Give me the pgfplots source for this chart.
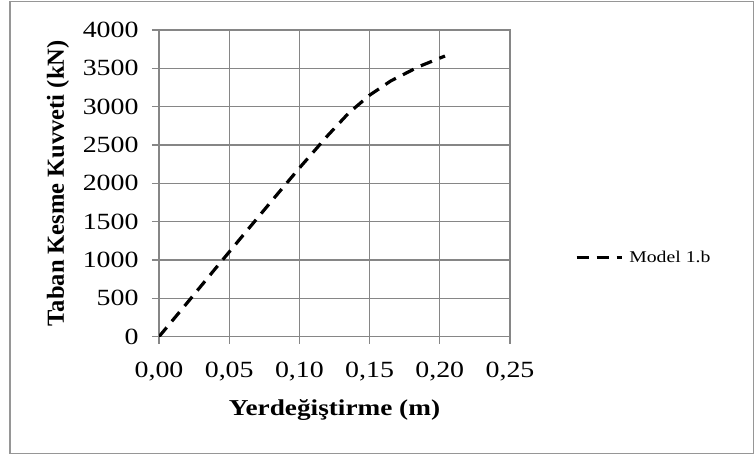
\documentclass[border=0pt]{standalone}
\usepackage{fontspec}
\setmainfont[FakeStretch=1.2]{Liberation Serif}
\newfontfamily\ylabfont{Liberation Serif}
\usepackage{pgfplots}
\pgfplotsset{compat=1.18}
\definecolor{gridgray}{RGB}{134,134,134}
\definecolor{framegray}{RGB}{150,150,150}

\begin{document}
\begin{tikzpicture}
\useasboundingbox (0bp,0bp) rectangle (755bp,455bp);
\draw[framegray, line width=1.3bp] (10bp,1.5bp) rectangle (753.5bp,453.5bp);
\begin{axis}[
    at={(159bp,118.3bp)}, anchor=south west,
    scale only axis,
    width=351bp, height=306.7bp,
    xmin=0, xmax=0.25,
    ymin=0, ymax=4000,
    xtick={0,0.05,0.10,0.15,0.20,0.25},
    ytick={0,500,1000,1500,2000,2500,3000,3500,4000},
    xtick pos=lower, ytick pos=left,
    tick align=outside,
    major tick length=7bp,
    tick style={gridgray, line width=1.3bp},
    grid=major,
    major grid style={gridgray, line width=1.3bp},
    axis line style={gridgray, line width=1.3bp},
    /pgf/number format/assume math mode=true,
    xticklabel style={/pgf/number format/fixed, /pgf/number format/fixed zerofill,
        /pgf/number format/precision=2, /pgf/number format/use comma, yshift=-15bp},
    yticklabel style={/pgf/number format/1000 sep={}, xshift=-10bp},
    tick label style={font=\fontsize{23.3}{28}\selectfont},
    xlabel={\bfseries Yerdeğiştirme (m)},
    ylabel={\ylabfont\bfseries Taban Kesme Kuvveti (kN)},
    xlabel style={font=\fontsize{22.8}{27}\selectfont, at={(axis description cs:0.5,-0.238)}, anchor=center},
    ylabel style={font=\fontsize{24.6}{28}\selectfont, at={(axis description cs:-0.2877,0.5)}, anchor=center},
    legend style={at={(1.185,0.257)}, anchor=west, draw=none, fill=none,
        inner sep=0pt, font=\fontsize{16.5}{20}\selectfont},
    legend image code/.code={\draw[#1] (0bp,0bp) -- (45bp,0bp); \path (49bp,0bp);},
]
\addplot[black, line width=3.2bp, dash pattern=on 12bp off 8bp] coordinates {
    (0,0) (0.02,440) (0.04,885) (0.06,1325) (0.08,1765) (0.10,2200)
    (0.12,2620) (0.135,2915) (0.15,3150) (0.165,3335) (0.185,3522) (0.2037,3661)
};
\addlegendentry{Model 1.b}
\end{axis}
\end{tikzpicture}
\end{document}
